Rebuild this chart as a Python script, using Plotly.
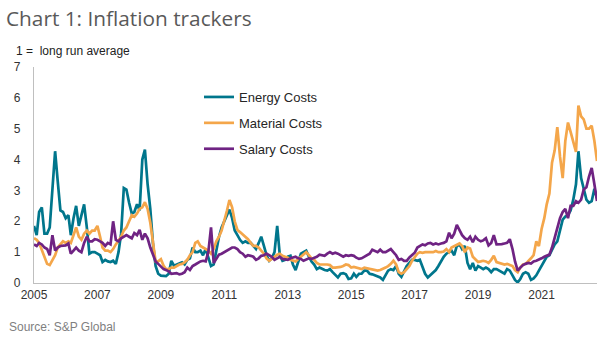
import pandas as pd
import plotly.graph_objects as go

# ---------------- data (monthly, Jan 2005 - Oct 2022) ----------------
start_month = "2005-01-01"
n_months = 214

energy = [
    1.85, 1.55, 2.3, 2.45, 1.6, 1.6, 1.8, 3.2, 4.27, 3.3, 2.35, 2.3,      # 2005
    2.1, 2.2, 1.55, 2.1, 2.5, 1.85, 2.2, 2.55, 1.8, 0.95, 1.0, 1.0,       # 2006
    0.95, 0.9, 0.68, 0.75, 0.7, 0.68, 0.72, 0.62, 1.0, 1.6, 3.08, 3.03,   # 2007
    2.6, 2.25, 2.3, 2.55, 2.35, 4.0, 4.32, 3.2, 2.4, 1.3, 0.55, 0.3,      # 2008
    0.24, 0.22, 0.22, 0.3, 0.72, 0.56, 0.6, 0.62, 0.67, 0.6, 0.75, 0.8,   # 2009
    1.15, 1.0, 1.0, 1.05, 0.9, 1.1, 0.8, 0.55, 0.6, 1.1, 1.5, 1.8,        # 2010
    2.0, 2.2, 2.38, 2.1, 1.7, 1.55, 1.4, 1.3, 1.35, 1.3, 1.3, 1.2,        # 2011
    1.1, 1.3, 1.5, 1.2, 0.9, 0.72, 0.8, 1.0, 1.85, 0.9, 0.72, 0.75,       # 2012
    0.85, 0.88, 0.6, 0.42, 0.7, 0.95, 1.0, 1.05, 0.85, 0.7, 0.6, 0.45,    # 2013
    0.5, 0.45, 0.42, 0.4, 0.45, 0.35, 0.28, 0.18, 0.3, 0.32, 0.28, 0.13,  # 2014
    0.15, 0.3, 0.2, 0.3, 0.3, 0.4, 0.4, 0.3, 0.28, 0.25, 0.2, 0.18,       # 2015
    0.1, 0.25, 0.4, 0.45, 0.42, 0.55, 0.3, 0.2, 0.4, 0.55, 0.65, 0.75,    # 2016
    0.75, 0.72, 0.75, 0.55, 0.3, 0.18, 0.25, 0.35, 0.42, 0.55, 0.7, 0.85, # 2017
    0.95, 1.0, 1.05, 0.9, 1.2, 1.25, 1.1, 1.2, 0.65, 0.45, 0.65, 0.4,     # 2018
    0.55, 0.5, 0.45, 0.5, 0.45, 0.35, 0.45, 0.45, 0.4, 0.35, 0.3, 0.45,   # 2019
    0.4, 0.25, 0.1, 0.02, 0.13, 0.3, 0.35, 0.3, 0.1, 0.15, 0.25, 0.4,     # 2020
    0.55, 0.72, 0.85, 0.9, 1.05, 1.25, 1.35, 1.7, 2.05, 2.15, 2.2, 2.35,  # 2021
    2.7, 3.2, 4.27, 3.4, 3.0, 2.7, 2.6, 2.65, 3.05, 2.75,                 # 2022
]

material = [
    1.45, 1.4, 1.3, 1.05, 0.85, 0.62, 0.58, 0.75, 0.9, 1.15, 1.25, 1.35,  # 2005
    1.3, 1.35, 1.3, 1.55, 1.8, 1.5, 1.4, 1.6, 1.7, 1.6, 1.7, 1.7,         # 2006
    1.85, 1.5, 1.15, 1.05, 1.05, 1.0, 1.1, 1.25, 1.4, 1.5, 1.7, 1.8,      # 2007
    2.0, 2.2, 2.15, 2.25, 2.4, 2.45, 2.62, 2.4, 1.95, 1.25, 0.7, 0.7,     # 2008
    0.77, 0.56, 0.45, 0.45, 0.5, 0.5, 0.55, 0.6, 0.62, 0.67, 0.75, 0.9,   # 2009
    1.0, 1.3, 1.35, 1.2, 1.15, 1.1, 1.05, 0.95, 1.1, 1.35, 1.5, 1.7,      # 2010
    2.0, 2.35, 2.69, 2.45, 2.0, 1.72, 1.65, 1.58, 1.5, 1.42, 1.3, 1.2,    # 2011
    1.2, 1.15, 1.05, 0.95, 0.8, 0.72, 0.78, 0.85, 0.92, 0.95, 0.88, 0.85, # 2012
    0.82, 0.75, 0.72, 0.7, 0.78, 0.85, 0.9, 1.0, 0.9, 0.8, 0.75, 0.65,    # 2013
    0.6, 0.6, 0.62, 0.6, 0.58, 0.5, 0.5, 0.5, 0.52, 0.55, 0.6, 0.58,      # 2014
    0.5, 0.52, 0.5, 0.48, 0.45, 0.5, 0.48, 0.45, 0.45, 0.42, 0.4, 0.42,   # 2015
    0.45, 0.5, 0.55, 0.62, 0.72, 0.6, 0.35, 0.3, 0.35, 0.45, 0.55, 0.72,  # 2016
    0.85, 0.95, 1.0, 0.98, 1.0, 1.0, 1.02, 1.0, 1.04, 1.0, 1.0, 1.02,     # 2017
    1.1, 1.0, 1.15, 1.2, 1.25, 1.28, 1.2, 1.0, 1.15, 1.12, 0.85, 0.75,    # 2018
    0.68, 0.7, 0.72, 0.7, 0.65, 0.75, 0.88, 0.68, 0.65, 0.62, 0.6, 0.62,  # 2019
    0.58, 0.55, 0.42, 0.35, 0.5, 0.6, 0.62, 0.7, 0.8, 0.9, 1.35, 1.2,     # 2020
    1.75, 2.1, 2.55, 2.9, 3.9, 4.3, 5.05, 4.1, 3.4, 4.6, 5.2, 4.9,        # 2021
    4.6, 4.25, 5.75, 5.4, 5.3, 5.0, 5.0, 5.1, 4.6, 3.95,                  # 2022
]

salary = [
    1.25, 1.2, 1.3, 1.25, 1.15, 1.1, 0.9, 1.55, 1.05, 1.15, 1.2, 1.2,     # 2005
    1.22, 1.28, 0.95, 1.05, 1.15, 1.05, 1.0, 1.3, 1.5, 1.35, 1.35, 1.42,  # 2006
    1.4, 1.35, 1.3, 1.2, 1.3, 1.25, 2.0, 1.4, 1.35, 1.45, 1.5, 1.55,      # 2007
    1.5, 1.45, 1.62, 1.55, 1.72, 1.4, 1.6, 1.45, 1.15, 0.9, 0.7, 0.62,    # 2008
    0.52, 0.45, 0.42, 0.38, 0.3, 0.3, 0.32, 0.28, 0.3, 0.35, 0.5, 0.42,   # 2009
    0.55, 0.6, 0.65, 0.7, 0.72, 0.7, 1.0, 1.8, 0.65, 0.8, 0.92, 0.95,     # 2010
    1.0, 1.05, 1.1, 1.15, 1.15, 1.1, 1.0, 0.95, 0.85, 0.9, 0.88, 0.85,    # 2011
    0.75, 0.8, 0.88, 0.9, 0.95, 0.9, 0.85, 0.75, 0.8, 0.85, 0.78, 0.77,   # 2012
    0.75, 0.8, 0.82, 0.85, 0.8, 0.78, 0.72, 0.75, 0.8, 0.78, 0.82, 0.85,  # 2013
    0.92, 0.9, 0.88, 0.95, 1.0, 0.95, 0.98, 0.95, 0.9, 0.85, 0.9, 0.88,   # 2014
    0.9, 0.88, 0.82, 0.78, 0.8, 0.85, 0.92, 0.95, 1.08, 1.05, 1.0, 1.08,  # 2015
    1.0, 1.0, 1.05, 1.1, 1.0, 0.9, 0.75, 0.78, 0.72, 0.72, 0.83, 0.9,     # 2016
    0.98, 1.15, 1.2, 1.25, 1.22, 1.28, 1.3, 1.25, 1.28, 1.25, 1.28, 1.3,  # 2017
    1.35, 1.63, 1.45, 1.6, 1.88, 1.7, 1.55, 1.45, 1.4, 1.5, 1.32, 1.5,    # 2018
    1.4, 1.35, 1.38, 1.45, 1.22, 1.3, 1.55, 1.25, 1.25, 1.26, 1.28, 1.3,  # 2019
    1.42, 1.1, 0.7, 0.4, 0.5, 0.58, 0.62, 0.65, 0.63, 0.7, 0.72, 0.75,    # 2020
    0.8, 0.85, 0.88, 0.92, 1.15, 1.45, 1.8, 2.1, 2.3, 2.4, 2.1, 2.5,      # 2021
    2.5, 2.65, 2.6, 2.7, 3.03, 3.1, 3.45, 3.73, 3.2, 2.66,                # 2022
]

series_names = ["Energy Costs", "Material Costs", "Salary Costs"]
series_colors = ["#00768C", "#F4A64A", "#6F2383"]
tick_years = [2005, 2007, 2009, 2011, 2013, 2015, 2017, 2019, 2021]
y_ticks = [0, 1, 2, 3, 4, 5, 6, 7]

title_text = "Chart 1: Inflation trackers"
unit_text = "1 =  long run average"
source_text = "Source: S&P Global"

# ---------------- figure ----------------
W, H = 607, 340
L, R, T, B = 34, 10, 67, 57
PW, PH = W - L - R, H - T - B


def px_x(p):
    return (p - L) / PW


def px_y(p):
    return (H - B - p) / PH


dates = pd.date_range(start_month, periods=n_months, freq="MS")

fig = go.Figure()
for i, (name, vals, col) in enumerate(zip(series_names, [energy, material, salary], series_colors)):
    fig.add_trace(go.Scatter(
        x=dates, y=vals, mode="lines", name=name,
        line=dict(color=col, width=2.7),
        legendgroup=f"g{i}",
    ))

AX_FONT = dict(family="Liberation Sans, Arial, sans-serif", size=12, color="#333333")

fig.update_layout(
    width=W, height=H,
    margin=dict(l=L, r=R, t=T, b=B, pad=0),
    plot_bgcolor="white", paper_bgcolor="white",
    showlegend=True,
    legend=dict(
        x=px_x(199), y=px_y(82), xanchor="left", yanchor="top",
        font=dict(family="Liberation Sans, Arial, sans-serif", size=13, color="#262626"),
        bgcolor="rgba(0,0,0,0)", borderwidth=0,
        tracegroupgap=6,
    ),
    xaxis=dict(
        type="date",
        range=[dates[0], dates[-1]],
        tickvals=[f"{y}-01-01" for y in tick_years],
        ticktext=[str(y) for y in tick_years],
        showline=True, linecolor="#BFBFBF", linewidth=1.3,
        ticks="", showgrid=False, zeroline=False,
        tickfont=AX_FONT,
    ),
    yaxis=dict(
        range=[0, 7], tickvals=y_ticks,
        showline=True, linecolor="#BFBFBF", linewidth=1.3,
        ticks="", showgrid=False, zeroline=False,
        tickfont=AX_FONT,
        ticklabelstandoff=10,
    ),
)

fig.add_annotation(
    text=title_text, xref="paper", yref="paper",
    x=px_x(4), y=px_y(18), xanchor="left", yanchor="middle",
    showarrow=False,
    font=dict(family="Open Sans, sans-serif", size=20.8, color="#595959"),
)
fig.add_annotation(
    text=unit_text, xref="paper", yref="paper",
    x=px_x(14), y=px_y(51), xanchor="left", yanchor="middle",
    showarrow=False,
    font=dict(family="Liberation Sans, Arial, sans-serif", size=12, color="#222222"),
)
fig.add_annotation(
    text=source_text, xref="paper", yref="paper",
    x=px_x(7), y=px_y(327), xanchor="left", yanchor="middle",
    showarrow=False,
    font=dict(family="Liberation Sans, Arial, sans-serif", size=12, color="#7F7F7F"),
)

fig.write_html("out.html")
